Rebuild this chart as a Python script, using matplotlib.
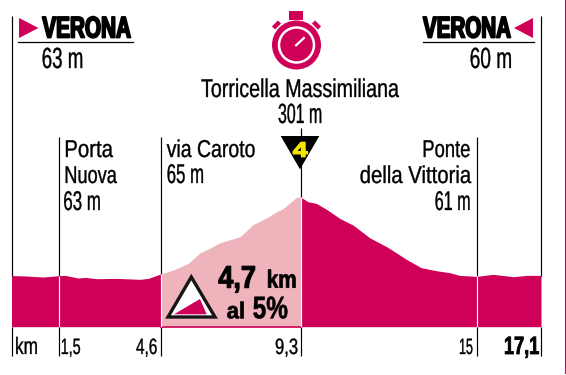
import numpy as np
import matplotlib
matplotlib.use('Agg')
import matplotlib.pyplot as plt
from matplotlib.patches import Circle, Polygon, Rectangle
from matplotlib.patheffects import AbstractPathEffect
from matplotlib.transforms import Affine2D, blended_transform_factory

MAGENTA = '#cf0058'
PINK = '#eeb3bb'
FONT = ['Liberation Sans', 'DejaVu Sans']

# altitude profile, km / metres
profile_km = [0, 0.49, 1.01, 1.5, 1.70, 2.10, 2.31, 2.66, 3.27, 3.98, 4.23, 4.6,
              5.03, 5.53, 5.93, 6.20, 6.60, 7.27, 7.72, 8.17, 8.50, 8.71, 9.16, 9.3,
              9.54, 9.81, 10.13, 10.57, 11.0, 11.54, 12.13, 12.73, 13.21, 13.70,
              14.13, 14.45, 15, 15.54, 16.2, 16.63, 17.1]
profile_m = [58, 56.7, 53.6, 57.7, 58.7, 50.5, 52.5, 48.4, 49.4, 46.4, 49.4, 62.8,
             75.2, 95.8, 128.8, 140.1, 159.7, 178.2, 216.3, 236.9, 255.4, 264.7, 299.7, 301,
             286.4, 281.2, 263.7, 234.9, 214.3, 175.1, 145.2, 108.2, 82.4, 73.1,
             67, 58.7, 55.6, 61.8, 54.6, 58.7, 58.7]

# the km axis of the drawing is not linear, these are its marks
tick_km = [0, 1.5, 4.6, 9.3, 15, 17.1]
tick_pos = [0, 47, 149, 289, 465, 529.5]
tick_labels = ['1,5', '4,6', '9,3', '15', '17,1']
climb_start, climb_end = 4.6, 9.3


def to_pos(v):
    return np.interp(v, tick_km, tick_pos)


def to_km(v):
    return np.interp(v, tick_pos, tick_km)


class Narrow(AbstractPathEffect):
    # squeezes a text sideways, no condensed font is installed
    def __init__(self, sx, anchor, lw=0.0):
        super().__init__()
        self.sx = sx
        self.anchor = anchor
        self.lw = lw

    def draw_path(self, renderer, gc, tpath, affine, rgbFace=None):
        squeeze = Affine2D().translate(-self.anchor, 0).scale(self.sx, 1).translate(self.anchor, 0)
        gc0 = renderer.new_gc()
        gc0.copy_properties(gc)
        gc0.set_linewidth(self.lw)
        if self.lw:
            gc0.set_foreground(rgbFace)
        renderer.draw_path(gc0, tpath, affine + squeeze, rgbFace)
        gc0.restore()


fig = plt.figure(figsize=(5.66, 3.75), dpi=100)
W, H = 566, 375

ax = fig.add_axes([11.5 / W, (H - 326.7) / H, 529.5 / W, 129.7 / H])
ax.set_xscale('function', functions=(to_pos, to_km))
ax.set_xlim(0, 17.1)
ax.set_ylim(-100, 301)
ax.axis('off')

km = np.array(profile_km)
m = np.array(profile_m)
ax.fill_between(km, -100, m, where=(km <= climb_start), color=MAGENTA, lw=0)
ax.fill_between(km, -100, m, where=(km >= climb_start) & (km <= climb_end), color=PINK, lw=0)
ax.fill_between(km, -100, m, where=(km >= climb_end), color=MAGENTA, lw=0)
ax.plot([climb_start, climb_end], [-100, -100], color=MAGENTA, lw=1.2, clip_on=False)

# overlay in pixels for the texts and icons
over = fig.add_axes([0, 0, 1, 1], zorder=5)
over.set_xlim(0, W)
over.set_ylim(H, 0)
over.axis('off')
over.patch.set_alpha(0)
tr = blended_transform_factory(ax.transData, over.transData)
renderer = fig.canvas.get_renderer()


def vline(k, y0, y1, color='black', lw=0.85):
    over.plot([k, k], [y0, y1], color=color, lw=lw, transform=tr, solid_capstyle='butt')


def label(x0, x1, y, s, size, weight='normal', lw=0.25, color='black'):
    t = over.text(x0, y, s, fontsize=size, ha='left', va='baseline', family=FONT,
                  weight=weight, color=color)
    width = t.get_window_extent(renderer).width
    t.set_path_effects([Narrow((x1 - x0) / width, x0, lw)])
    return t


# km lines, black above and below the profile, white through the fill
for k, top in [(0, 16), (17.1, 16)]:
    vline(k, top, 276)
    vline(k, 327, 356)
for k, prof_top in [(1.5, 275.5), (4.6, 274), (15, 276)]:
    vline(k, 137, prof_top)
    vline(k, prof_top, 326.5, color='white')
    vline(k, 327, 356)
vline(9.3, 128, 136)
vline(9.3, 165, 197)
vline(9.3, 197, 326.5, color='white')
vline(9.3, 327, 356)
over.plot([565.3, 565.3], [0, 373], color=MAGENTA, lw=0.8)

# start and finish
over.add_patch(Polygon([[19, 18], [38.5, 28], [19, 38]], color=MAGENTA, lw=0))
over.add_patch(Polygon([[533, 18], [514, 28], [533, 38]], color=MAGENTA, lw=0))
over.plot([18, 133], [42.4, 42.4], color='black', lw=0.9)
over.plot([423, 533.7], [42.4, 42.4], color='black', lw=0.9)
label(42.3, 131, 37.5, 'VERONA', 21.5, weight='bold', lw=1.3)
label(423, 511, 37.5, 'VERONA', 21.5, weight='bold', lw=1.3)
label(41.7, 83.3, 68, '63 m', 21)
label(469.7, 512, 68, '60 m', 21)

# stopwatch
over.add_patch(Circle((296.5, 45), 24.5, color=MAGENTA, lw=0))
over.add_patch(Circle((296.5, 45), 17.5, fc='none', ec='white', lw=1.8))
over.add_patch(Rectangle((289, 11), 14, 8.5, color=MAGENTA, lw=0))
over.plot([273.5, 279.5], [28, 22], color=MAGENTA, lw=3.2, solid_capstyle='butt')
over.plot([313.5, 319.5], [22, 28], color=MAGENTA, lw=3.2, solid_capstyle='butt')
over.plot([295.3, 304.7], [46, 37.3], color='white', lw=1.6, solid_capstyle='butt')

label(201, 399.7, 97, 'Torricella Massimiliana', 18.5)
label(278, 322.3, 123, '301 m', 20)

# climb category
over.add_patch(Polygon([[280.7, 136], [319.3, 136], [300, 169.3]], color='black', lw=0))
label(292.7, 307.7, 156.7, '4', 15, weight='bold', lw=1.0, color='#f4e400')

label(64.3, 112.7, 157, 'Porta', 17.5)
label(64.3, 116.7, 183, 'Nuova', 17.5)
label(63.3, 101, 210, '63 m', 19.5)
label(166.7, 255, 157, 'via Caroto', 17.5)
label(166.7, 204, 183, '65 m', 19.5)
label(422.3, 470.3, 157, 'Ponte', 17.5)
label(359.7, 470.7, 183, 'della Vittoria', 17.5)
label(434.7, 470.7, 210, '61 m', 19.5)

# climb badge
over.add_patch(Polygon([[191.3, 277], [168, 317], [215, 317]], fc='white', ec='#151515', lw=2.4,
                       joinstyle='miter'))
over.add_patch(Polygon([[174, 314.3], [200, 299], [206.7, 314.3]], color=MAGENTA, lw=0))
label(218.3, 256, 287.7, '4,7', 22.5, weight='bold', lw=0.8)
label(266.7, 296.7, 287.7, 'km', 18, weight='bold', lw=0.5)
label(226.7, 245, 318.3, 'al', 16.5, weight='bold', lw=0.5)
label(252.7, 288, 318.3, '5%', 22.5, weight='bold', lw=0.4)

# km labels
label(15, 38, 354, 'km', 17)
label(60.7, 80.7, 354, tick_labels[0], 16)
label(136, 157.3, 354, tick_labels[1], 16)
label(275, 298, 354, tick_labels[2], 16)
label(459, 473, 354, tick_labels[3], 16)
label(504, 539.5, 354, tick_labels[4], 18, weight='bold', lw=0.6)

fig.savefig('out.png', dpi=100)
